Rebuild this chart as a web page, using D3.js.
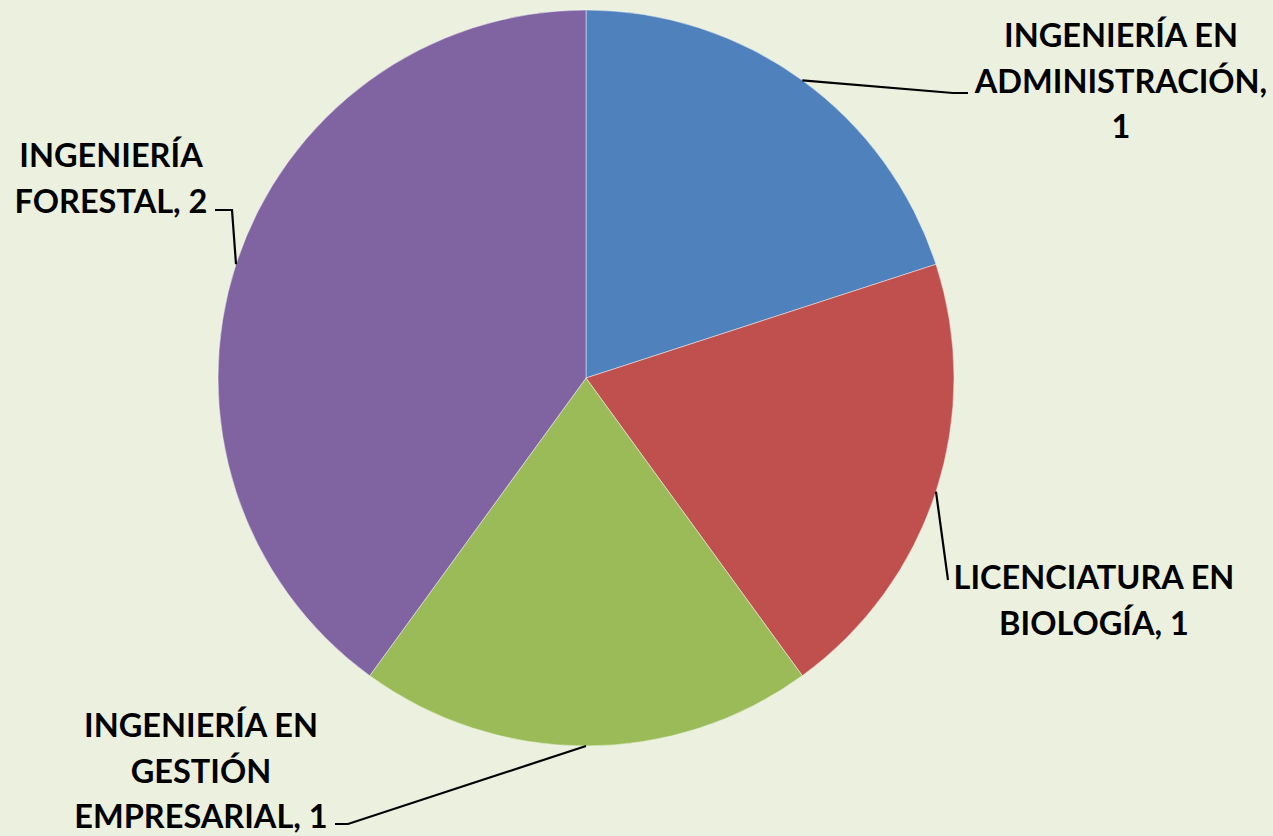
<!DOCTYPE html>
<html>
<head>
<meta charset="utf-8">
<script src="https://cdn.jsdelivr.net/npm/d3@7"></script>
<style>
  html, body { margin: 0; padding: 0; background: #EBF1DE; }
  svg { display: block; }
  .lbl { font-family: Lato, "Open Sans", sans-serif; font-weight: 700; font-size: 32.5px; fill: #000; }
</style>
</head>
<body>
<svg width="1273" height="836"></svg>
<script>
const carreras = ['INGENIERÍA EN ADMINISTRACIÓN', 'LICENCIATURA EN BIOLOGÍA', 'INGENIERÍA EN GESTIÓN EMPRESARIAL', 'INGENIERÍA FORESTAL'];
const valores = [1, 1, 1, 2];
const colores = ['#4F81BD', '#C0504D', '#9BBB59', '#8064A2'];
// label lines as the original breaks them
const lineas = [
  ['INGENIERÍA EN', 'ADMINISTRACIÓN,', '1'],
  ['LICENCIATURA EN', 'BIOLOGÍA, 1'],
  ['INGENIERÍA EN', 'GESTIÓN', 'EMPRESARIAL, 1'],
  ['INGENIERÍA', 'FORESTAL, 2']
];

const svg = d3.select('svg');
const cx = 586, cy = 378, radius = 368;
const lineH = 45.5;

// where each label block sits, and where its leader bends / ends
const labelLayout = [
  { x: 1121, y: 47, elbow: [953, 93], end: [968, 93] },
  { x: 1094, y: 589, elbow: null, end: [948, 580] },
  { x: 201, y: 737, elbow: [348, 824], end: [335, 824] },
  { x: 111, y: 167, elbow: [232, 210], end: [215, 210] }
];

const data = carreras.map((c, i) => ({ carrera: c, valor: valores[i], color: colores[i], lineas: lineas[i], layout: labelLayout[i] }));

const pie = d3.pie().sort(null).value(d => d.valor);
const arcGen = d3.arc().innerRadius(0).outerRadius(radius);
const edgeArc = d3.arc().innerRadius(radius).outerRadius(radius);

const g = svg.append('g').attr('transform', `translate(${cx},${cy})`);
const slices = pie(data);

g.selectAll('.slice').data(slices).enter().append('path')
  .attr('class', 'slice')
  .attr('d', arcGen)
  .attr('fill', d => d.data.color)
  .attr('stroke', 'rgba(255,255,255,0.45)')
  .attr('stroke-width', 1);

// leader lines
g.selectAll('.leader').data(slices).enter().append('polyline')
  .attr('class', 'leader')
  .attr('fill', 'none')
  .attr('stroke', '#000')
  .attr('stroke-width', 2.2)
  .attr('points', d => {
    const p = edgeArc.centroid(d);
    const L = d.data.layout;
    const pts = [p];
    if (L.elbow) pts.push([L.elbow[0] - cx, L.elbow[1] - cy]);
    pts.push([L.end[0] - cx, L.end[1] - cy]);
    return pts.map(q => q.join(',')).join(' ');
  });

// labels
const labels = svg.selectAll('.lbl').data(data).enter().append('text')
  .attr('class', 'lbl')
  .attr('text-anchor', 'middle');

labels.selectAll('tspan').data(d => d.lineas.map((t, i) => ({ t, i, L: d.layout }))).enter()
  .append('tspan')
  .attr('x', d => d.L.x)
  .attr('y', d => d.L.y + d.i * lineH)
  .text(d => d.t);
</script>
</body>
</html>
